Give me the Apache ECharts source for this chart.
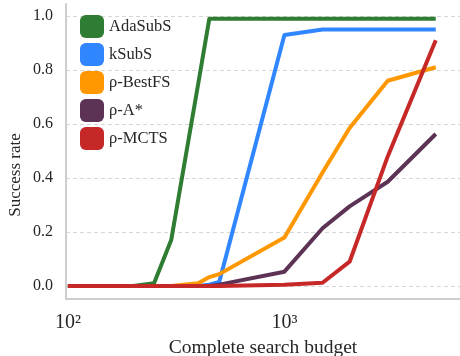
<!DOCTYPE html>
<html>
<head>
<meta charset="utf-8">
<script src="https://cdn.jsdelivr.net/npm/echarts@6/dist/echarts.min.js"></script>
<style>
  html, body { margin: 0; padding: 0; background: #fff; }
  #chart { width: 460px; height: 356px; }
</style>
</head>
<body>
<div id="chart"></div>
<script>
// Search budgets (log-scaled x axis)
const budgets = [100, 200, 250, 300, 400, 450, 500, 1000, 1500, 2000, 3000, 5000];

// Success rate per method at each budget
const adaSubS = [0, 0, 0.01, 0.17, 0.75, 0.99, 0.99, 0.99, 0.99, 0.99, 0.99, 0.99];
const kSubS   = [0, 0, 0, 0, 0, 0.005, 0.015, 0.93, 0.95, 0.95, 0.95, 0.95];
const bestFS  = [0, 0, 0, 0, 0.01, 0.033, 0.044, 0.18, 0.42, 0.585, 0.76, 0.81];
const aStar   = [0, 0, 0, 0, 0, 0, 0.005, 0.053, 0.214, 0.295, 0.386, 0.563];
const mcts    = [0, 0, 0, 0, 0, 0, 0, 0.005, 0.012, 0.09, 0.48, 0.91];

const seriesNames = ['AdaSubS', 'kSubS', 'ρ-BestFS', 'ρ-A*', 'ρ-MCTS'];
const seriesValues = [adaSubS, kSubS, bestFS, aStar, mcts];
const seriesColors = ['#2e7d32', '#2f86ff', '#ff9800', '#5c3354', '#c62828'];

const xTickLabels = { 100: '10²', 1000: '10³' };

const FONT = "'Liberation Serif', 'Times New Roman', serif";
const TEXT = '#262626';
const X_MIN = 98, X_MAX = 6470;

const chart = echarts.init(document.getElementById('chart'), null, { renderer: 'canvas' });

chart.setOption({
  animation: false,
  backgroundColor: '#ffffff',
  grid: [
    // outer frame: spines and x tick labels, with padding below 0 and above 1
    { left: 66, right: 0, top: 4, bottom: 57, containLabel: false, outerBoundsMode: 'none' },
    // data area: spans exactly 0..1 on the y axis
    { left: 66, right: 0, top: 16, bottom: 70, containLabel: false, outerBoundsMode: 'none' }
  ],
  legend: {
    orient: 'vertical',
    left: 75,
    top: 10,
    icon: 'roundRect',
    itemWidth: 24,
    itemHeight: 23,
    itemGap: 5,
    data: seriesNames,
    textStyle: { fontFamily: FONT, fontSize: 16.5, color: TEXT }
  },
  xAxis: [{
    gridIndex: 0,
    type: 'log',
    logBase: 10,
    min: X_MIN,
    max: X_MAX,
    name: 'Complete search budget',
    nameLocation: 'middle',
    nameGap: 39,
    nameTextStyle: { fontFamily: FONT, fontSize: 19.5, color: TEXT },
    axisLine: { show: true, onZero: false, lineStyle: { color: '#cdcdcd', width: 2 } },
    axisTick: { show: false },
    splitLine: { show: false },
    axisLabel: {
      margin: 14,
      fontFamily: FONT,
      fontSize: 20,
      color: TEXT,
      formatter: function (v) {
        const key = Math.round(v);
        return Math.abs(v - key) < 1e-6 && xTickLabels[key] ? xTickLabels[key] : '';
      }
    }
  }, {
    gridIndex: 1,
    type: 'log',
    logBase: 10,
    min: X_MIN,
    max: X_MAX,
    show: false
  }],
  yAxis: [{
    gridIndex: 0,
    type: 'value',
    min: 0,
    max: 1,
    axisLine: { show: true, lineStyle: { color: '#cdcdcd', width: 2 } },
    axisTick: { show: false },
    axisLabel: { show: false },
    splitLine: { show: false }
  }, {
    gridIndex: 1,
    type: 'value',
    min: 0,
    max: 1,
    interval: 0.2,
    axisLine: { show: false },
    axisTick: { show: false },
    splitLine: {
      show: true,
      lineStyle: { color: '#d6d6d6', width: 1, type: [4, 3] }
    },
    axisLabel: {
      margin: 13,
      fontFamily: FONT,
      fontSize: 16,
      color: TEXT,
      formatter: function (v) { return v.toFixed(1); }
    }
  }],
  graphic: [{
    type: 'text',
    x: 16,
    y: 175,
    rotation: Math.PI / 2,
    style: {
      text: 'Success rate',
      font: '17px ' + FONT,
      fill: TEXT,
      align: 'center',
      verticalAlign: 'middle'
    }
  }],
  series: seriesNames.map((name, i) => ({
    name: name,
    type: 'line',
    xAxisIndex: 1,
    yAxisIndex: 1,
    clip: false,
    data: budgets.map((b, j) => [b, seriesValues[i][j]]),
    showSymbol: false,
    symbol: 'none',
    color: seriesColors[i],
    lineStyle: { width: 4, color: seriesColors[i], join: 'round', cap: 'butt' },
    z: 2 + i
  }))
});
</script>
</body>
</html>
